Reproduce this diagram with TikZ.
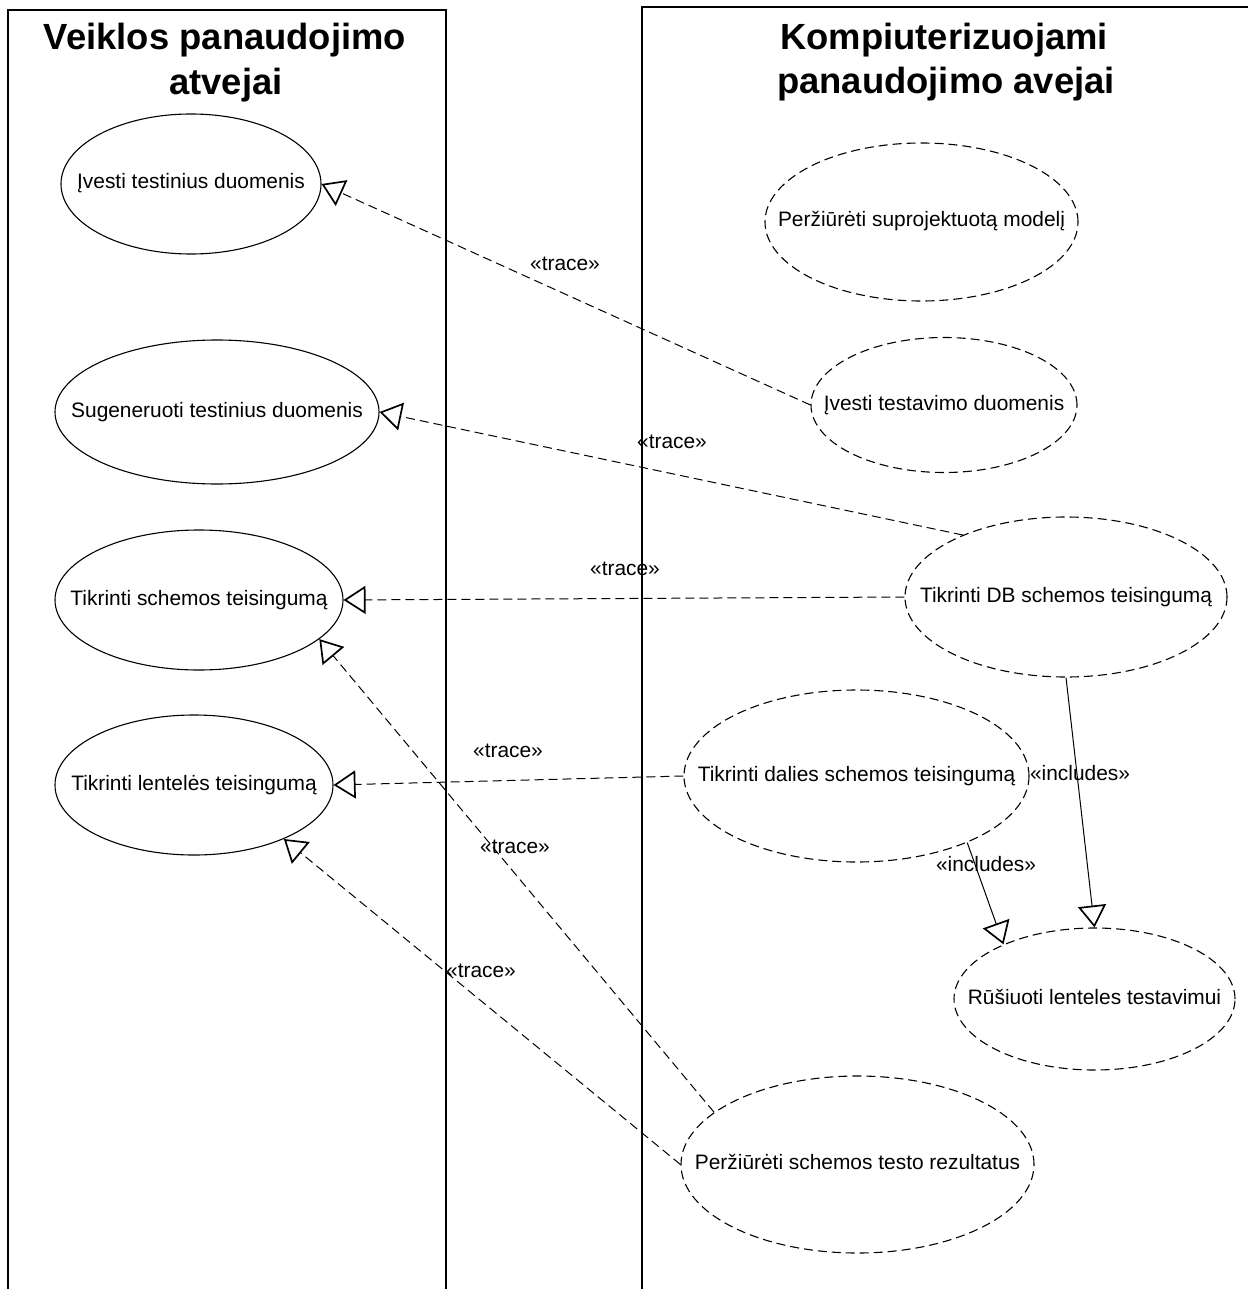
\documentclass[tikz,border=0pt]{standalone}
\usepackage{fontspec}
\setmainfont{Liberation Sans}
\usetikzlibrary{arrows.meta,shapes.geometric}
% zero-width text so the ellipse keeps its given size
\newcommand{\usecasetext}[1]{\makebox[0pt]{\strut #1}}
\begin{document}
\begin{tikzpicture}[x=1pt,y=-1pt,
  every node/.style={inner sep=0pt, font=\fontsize{20.9}{25}\selectfont},
  boundary/.style={line width=1.7pt},
  title/.style={anchor=base, font=\fontsize{36.4}{44}\selectfont\bfseries},
  usecase/.style={ellipse, draw, line width=1.1pt, minimum width=#1},
  business/.style={usecase=#1},
  computer/.style={usecase=#1, dash pattern=on 9pt off 5pt},
  trace/.style={line width=1pt, dash pattern=on 9pt off 5pt,
    -{Triangle[fill=white,length=22pt,width=28pt,line width=1.7pt]}},
  includes/.style={line width=1pt,
    -{Triangle[fill=white,length=22pt,width=28pt,line width=1.7pt]}},
  stereo/.style={anchor=center}
]
\useasboundingbox (0,0) rectangle (1247,1289);

% system boundaries
\draw[boundary] (8,1300) -- (8,10) -- (446,10) -- (446,1300);
\draw[boundary] (642,1300) -- (642,7) -- (1260,7);

% titles
\node[title] (t1a) at (225,50) {Veiklos panaudojimo};
\node[title] (t1b) at (226,95) {atvejai};
\node[title] (t2a) at (944,50) {Kompiuterizuojami};
\node[title] (t2b) at (946,94) {panaudojimo avejai};

% business use cases
\node[business=260pt, minimum height=140pt] (e1) at (191,184) {\usecasetext{Įvesti testinius duomenis}};
\node[business=324pt, minimum height=144pt] (e2) at (217,412) {\usecasetext{Sugeneruoti testinius duomenis}};
\node[business=288pt, minimum height=140pt] (e3) at (199,600) {\usecasetext{Tikrinti schemos teisingumą}};
\node[business=278pt, minimum height=140pt] (e4) at (194,785) {\usecasetext{Tikrinti lentelės teisingumą}};

% computerised use cases
\node[computer=313pt, minimum height=158pt] (e5) at (921.5,222) {\usecasetext{Peržiūrėti suprojektuotą modelį}};
\node[computer=266pt, minimum height=135pt] (e6) at (944,405) {\usecasetext{Įvesti testavimo duomenis}};
\node[computer=322pt, minimum height=160pt] (e7) at (1066,597) {\usecasetext{Tikrinti DB schemos teisingumą}};
\node[computer=345pt, minimum height=172pt] (e8) at (856.5,776) {\usecasetext{Tikrinti dalies schemos teisingumą}};
\node[computer=281pt, minimum height=142pt] (e9) at (1094.5,999) {\usecasetext{Rūšiuoti lenteles testavimui}};
\node[computer=353pt, minimum height=177pt] (e10) at (857.5,1164.5) {\usecasetext{Peržiūrėti schemos testo rezultatus}};

% trace dependencies
\draw[trace] (e6.west) -- (e1.east);
\draw[trace] (e7.149) -- (e2.east);
\draw[trace] (e7.west) -- (e3.east);
\draw[trace] (e8.west) -- (e4.east);
\draw[trace] (e10.160) -- (e3.-18);
\draw[trace] (e10.west) -- (e4.-31);

% include relations
\draw[includes] (e7.south) -- (e9.north);
\draw[includes] (e8.-31) -- (e9.149);

% stereotype labels
\node[stereo] (s1) at (565,265) {\strut«trace»};
\node[stereo] (s2) at (672,443) {\strut«trace»};
\node[stereo] (s3) at (625,570) {\strut«trace»};
\node[stereo] (s4) at (508,752) {\strut«trace»};
\node[stereo] (s5) at (515,848) {\strut«trace»};
\node[stereo] (s6) at (481,972) {\strut«trace»};
\node[stereo] (s7) at (1080,775) {\strut«includes»};
\node[stereo] (s8) at (986,866) {\strut«includes»};
\end{tikzpicture}
\end{document}
